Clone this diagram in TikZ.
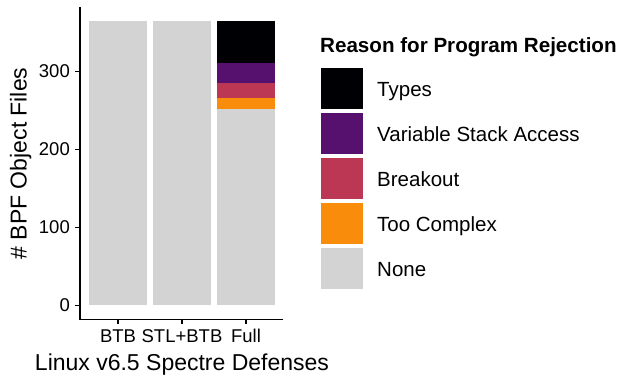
\documentclass[tikz,border=0pt]{standalone}
\usepackage{fontspec}
\setmainfont{Liberation Sans}
\usepackage{xcolor}
\usetikzlibrary{positioning}
\definecolor{infBlack}{HTML}{000004}
\definecolor{infPurple}{HTML}{56106E}
\definecolor{infRed}{HTML}{BB3754}
\definecolor{infOrange}{HTML}{F98C0A}
\definecolor{noneGrey}{HTML}{D3D3D3}

\tikzset{
  axisline/.style={line width=1.5pt,line cap=butt},
  axistick/.style={line width=1.2pt},
  ticklabel/.style={inner sep=0pt,font=\fontsize{18.5}{20}\selectfont},
  axistitle/.style={inner sep=0pt,font=\fontsize{23}{26}\selectfont},
  legtitle/.style={inner sep=0pt,font=\fontsize{20.6}{23}\selectfont\bfseries},
  legtext/.style={inner sep=0pt,font=\fontsize{20.5}{23}\selectfont}
}

\begin{document}
\begin{tikzpicture}[x=1pt,y=1pt,line join=miter]
\useasboundingbox (0,0) rectangle (618,377);
% bars, y in data units
\begin{scope}[shift={(0,71.7)},y=0.78pt]
\fill[noneGrey] (89,0) rectangle (147,364);
\fill[noneGrey] (153,0) rectangle (211,364);
\foreach \lo/\hi/\col in {0/252/noneGrey,252/266/infOrange,266/285/infRed,285/310/infPurple,310/364/infBlack}
  \fill[\col] (217,\lo) rectangle (275,\hi);
% y ticks
\foreach \v in {0,100,200,300} {
  \draw[axistick] (75,\v) -- (80,\v);
  \node[ticklabel,anchor=east] (ytick\v) at (70,\v) {\v};
}
\end{scope}
% axes
\draw[axisline] (80,370) -- (80,57.5) -- (283,57.5);
\foreach \xc/\nm/\txt in {118/btb/BTB,182/stl/STL+BTB,246/full/Full} {
  \draw[axistick] (\xc,57.5) -- (\xc,52.5);
  \node[ticklabel,anchor=base] (xtick\nm) at (\xc,34) {\txt};
}
\node[axistitle,anchor=base] (xtitle) at (182,6) {Linux v6.5 Spectre Defenses};
\node[axistitle,anchor=base,rotate=90] (ytitle) at (26.5,213.5) {\# BPF Object Files};
% legend
\node[legtitle,anchor=base west] (legtitle) at (320,324) {Reason for Program Rejection};
\foreach \i/\col/\txt in {0/infBlack/Types,1/infPurple/Variable Stack Access,2/infRed/Breakout,3/infOrange/Too Complex,4/noneGrey/None} {
  \fill[\col] (321,309-45*\i) rectangle (363,268-45*\i);
  \node[legtext,anchor=base west] (key\i) at (377,280.3-45*\i) {\txt};
}
\end{tikzpicture}
\end{document}
